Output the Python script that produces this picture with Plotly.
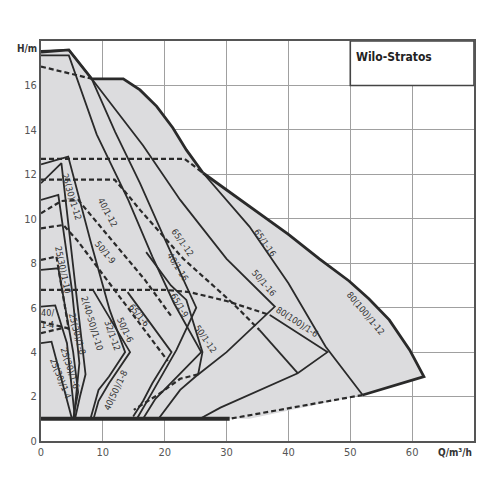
import plotly.graph_objects as go

# ---------------- data (Q in m3/h, H in m) ----------------
x_ticks = [0, 10, 20, 30, 40, 50, 60]
y_ticks = [0, 2, 4, 6, 8, 10, 12, 14, 16]

# gray envelope
env_q = [0, 4.5, 8.2, 13.3, 16, 18.7, 21.3, 23.5, 26.2, 30, 33.7, 40, 45, 49.8, 53, 56.3, 59.6, 61.9, 52, 33.7, 0]
env_h = [17.5, 17.6, 16.3, 16.3, 15.8, 15.06, 14.1, 13.1, 12.06, 11.3, 10.6, 9.3, 8.2, 7.2, 6.4, 5.45, 4.1, 2.9, 2.07, 1.0, 1.0]

# thick outer curves
top_q = [0, 4.5, 8.2, 13.3, 16, 18.7, 21.3, 23.5, 26.2]
top_h = [17.5, 17.6, 16.3, 16.3, 15.8, 15.06, 14.1, 13.1, 12.06]
p80_12_q = [26.2, 30, 33.7, 40, 45, 49.8, 53, 56.3, 59.6, 61.9, 52]
p80_12_h = [12.06, 11.3, 10.6, 9.3, 8.2, 7.2, 6.4, 5.45, 4.1, 2.9, 2.07]
base_q = [0, 30.5]
base_h = [1.0, 1.0]

# solid curves
p65_16_q = [26.2, 30, 33.7, 40, 46, 52]
p65_16_h = [12.06, 10.85, 9.65, 7.1, 4.25, 2.07]
p50_16_q = [0, 4.5, 8.2, 16.5, 22.5, 30, 37.8, 35, 30, 25, 22.5, 19]
p50_16_h = [17.55, 17.6, 16.3, 13.3, 10.85, 8.2, 6.05, 5.3, 4.0, 2.9, 2.3, 1.0]
p40_16_q = [8.2, 12, 16, 20, 25.1, 21.9, 18, 15.5]
p40_16_h = [16.3, 13.9, 11.6, 9.1, 6.0, 4.1, 2.2, 1.0]
pA_q = [0, 4.5, 9, 14.1, 18, 21.5, 25.9, 22, 18.5, 16.5]
pA_h = [17.35, 17.35, 13.8, 10.85, 8.3, 6.2, 4.0, 2.9, 1.9, 1.0]
p80_6_q = [37, 46.3, 41.5, 37, 33, 29, 25.7]
p80_6_h = [5.67, 4.0, 3.05, 2.5, 2.0, 1.5, 1.0]
p65_12_q = [35.3, 41.5]
p65_12_h = [5.0, 3.05]
p32_12_q = [0, 4.4, 8, 11.1, 13.6, 11, 9.3, 8]
p32_12_h = [12.45, 12.8, 9.0, 5.9, 4.0, 2.9, 2.3, 1.0]
p50_6_q = [8.4, 14.4, 11, 9.3, 8.5]
p50_6_h = [6.8, 4.0, 2.6, 1.8, 1.0]
p65_6_q = [14, 21.1, 18, 16.5, 14.9]
p65_6_h = [6.7, 4.0, 2.6, 1.8, 1.1]
p50_12_q = [17, 21, 23.5, 26.1, 25.4]
p50_12_h = [8.5, 7.0, 6.35, 4.0, 3.0]
p25_12_q = [0, 3.3, 6.0, 7.2, 6.3, 5.5]
p25_12_h = [11.6, 12.5, 5.9, 3.0, 2.0, 1.0]
p25_10_q = [0, 2.8, 5.0, 6.2, 5.3]
p25_10_h = [10.85, 11.07, 6.8, 3.5, 1.0]
p25_8_q = [0, 2.8, 5.2, 6.0, 5.2]
p25_8_h = [7.7, 7.77, 4.0, 2.2, 1.0]
p40_4_q = [0, 2.3, 4.2, 5.5]
p40_4_h = [6.05, 6.1, 4.4, 1.0]
p25_4_q = [0, 1.7, 5.0]
p25_4_h = [4.4, 4.47, 1.0]

# dashed curves
d65_16_q = [0, 8.2]
d65_16_h = [16.85, 16.3]
d80_12_q = [0, 23.2, 26.2]
d80_12_h = [12.7, 12.7, 12.06]
d65_12_q = [0, 11.9, 14.4, 16, 23, 31, 35.3]
d65_12_h = [11.76, 11.76, 10.95, 10.4, 8.2, 6.2, 5.0]
d80_6_q = [0, 20, 24, 30, 37]
d80_6_h = [6.8, 6.8, 6.7, 6.3, 5.67]
d50_9_q = [0, 3.6, 5.8, 11.1, 16, 20.5]
d50_9_h = [9.57, 9.72, 9.05, 7.1, 5.3, 3.6]
d40_12_q = [0, 3.3, 6, 16.8, 21.1]
d40_12_h = [10.25, 10.8, 10.85, 7.25, 5.6]
d50_12_q = [25.4, 22.5, 19, 15]
d50_12_h = [3.0, 2.8, 2.1, 1.4]
d25_8_q = [0, 2.5, 4.5]
d25_8_h = [8.15, 8.3, 5.0]
d40_4_q = [0, 4.4]
d40_4_h = [5.37, 5.07]
d25_4_q = [0, 3.3]
d25_4_h = [4.85, 5.07]
dbot_q = [52, 30.5]
dbot_h = [2.07, 1.0]

# labels: text, Q, H, angle
lab_text = ["80(100)/1-12", "65/1-16", "50/1-16", "80(100)/1-6", "65/1-12", "40/1-16",
            "65/1-9", "50/1-12", "65/1-6", "50/1-6", "32/1-12", "40(50)/1-8",
            "40/1-12", "50/1-9", "25(30)/1-12", "25(30)/1-10", "25(30)/1-8",
            "25(30)/1-6", "25(30)/1-4", "40/<br>1-4", "2(40-50)/1-10"]
lab_q = [52.4, 36.2, 36.0, 41.4, 22.8, 22.1, 22.3, 26.6, 15.8, 13.6, 11.5, 12.1,
         10.7, 10.3, 5.0, 3.55, 5.8, 4.7, 3.2, 1.0, 8.2]
lab_h = [5.75, 8.9, 7.1, 5.35, 8.95, 7.83, 6.1, 4.6, 5.67, 5.0, 4.77, 2.3,
         10.3, 8.5, 11.0, 7.7, 4.8, 3.3, 2.8, 5.5, 5.3]
lab_ang = [50, 55, 49, 33, 55, 58, 60, 55, 50, 65, 70, -65, 62, 50, 73, 78, 75, 72, 68, 0, 73]

# ---------------- figure ----------------
FONT = "DejaVu Sans Condensed, Liberation Sans Narrow, Roboto Condensed, Arial Narrow, sans-serif"
INK = "#2a2a2a"

fig = go.Figure()
fig.add_trace(go.Scatter(x=env_q, y=env_h, fill="toself", fillcolor="#dcdcde",
                         line=dict(width=0), mode="lines", hoverinfo="skip"))

def solid(q, h, w=1.8):
    fig.add_trace(go.Scatter(x=q, y=h, mode="lines", line=dict(color=INK, width=w), hoverinfo="skip"))

def dashed(q, h, w=2.2):
    fig.add_trace(go.Scatter(x=q, y=h, mode="lines",
                             line=dict(color=INK, width=w, dash="5px,3px"), hoverinfo="skip"))

for q, h in [(p65_16_q, p65_16_h), (p50_16_q, p50_16_h), (p40_16_q, p40_16_h), (pA_q, pA_h),
             (p80_6_q, p80_6_h), (p65_12_q, p65_12_h), (p32_12_q, p32_12_h), (p50_6_q, p50_6_h),
             (p65_6_q, p65_6_h), (p50_12_q, p50_12_h), (p25_12_q, p25_12_h), (p25_10_q, p25_10_h),
             (p25_8_q, p25_8_h), (p40_4_q, p40_4_h), (p25_4_q, p25_4_h)]:
    solid(q, h)
for q, h in [(d65_16_q, d65_16_h), (d80_12_q, d80_12_h), (d65_12_q, d65_12_h), (d80_6_q, d80_6_h),
             (d50_9_q, d50_9_h), (d40_12_q, d40_12_h), (d50_12_q, d50_12_h), (d25_8_q, d25_8_h),
             (d40_4_q, d40_4_h), (d25_4_q, d25_4_h), (dbot_q, dbot_h)]:
    dashed(q, h)
solid(top_q, top_h, 2.8)
solid(p80_12_q, p80_12_h, 2.8)
solid(base_q, base_h, 4)

# Wilo-Stratos box
fig.add_trace(go.Scatter(x=[50, 50, 70, 70, 50], y=[18, 16, 16, 18, 18], fill="toself",
                         fillcolor="white", mode="lines", line=dict(color="#444", width=1.6),
                         hoverinfo="skip"))

for t, q, h, a in zip(lab_text, lab_q, lab_h, lab_ang):
    fig.add_annotation(x=q, y=h, text=t, showarrow=False, textangle=a,
                       font=dict(family=FONT, size=9, color="#333"))

fig.add_annotation(x=50.6, y=17.3, text="<b>Wilo-Stratos</b>", showarrow=False, xanchor="left",
                   yanchor="middle", font=dict(family=FONT, size=12, color="#222"))
fig.add_annotation(x=0, y=18, xref="x", yref="y", text="<b>H/m</b>", showarrow=False,
                   xanchor="right", yanchor="top", xshift=-2,
                   font=dict(family=FONT, size=10, color="#333"))
fig.add_annotation(x=70, y=0, text="<b>Q/m³/h</b>", showarrow=False, xanchor="right",
                   yanchor="top", yshift=-4, font=dict(family=FONT, size=10, color="#333"))

fig.update_layout(
    width=492, height=492, showlegend=False,
    margin=dict(l=33, r=26, t=33, b=59),
    plot_bgcolor="white", paper_bgcolor="white",
    font=dict(family=FONT, size=11, color="#555"),
    xaxis=dict(range=[0, 70], tickvals=x_ticks, showgrid=True, gridcolor="#a0a0a0", gridwidth=1.2,
               zeroline=False, showline=True, linecolor="#555", linewidth=2, mirror=True,
               ticks="", fixedrange=True),
    yaxis=dict(range=[0, 18], tickvals=y_ticks, showgrid=True, gridcolor="#a0a0a0", gridwidth=1.2,
               zeroline=False, showline=True, linecolor="#555", linewidth=2, mirror=True,
               ticks="", fixedrange=True),
)
fig.write_html("out.html")
